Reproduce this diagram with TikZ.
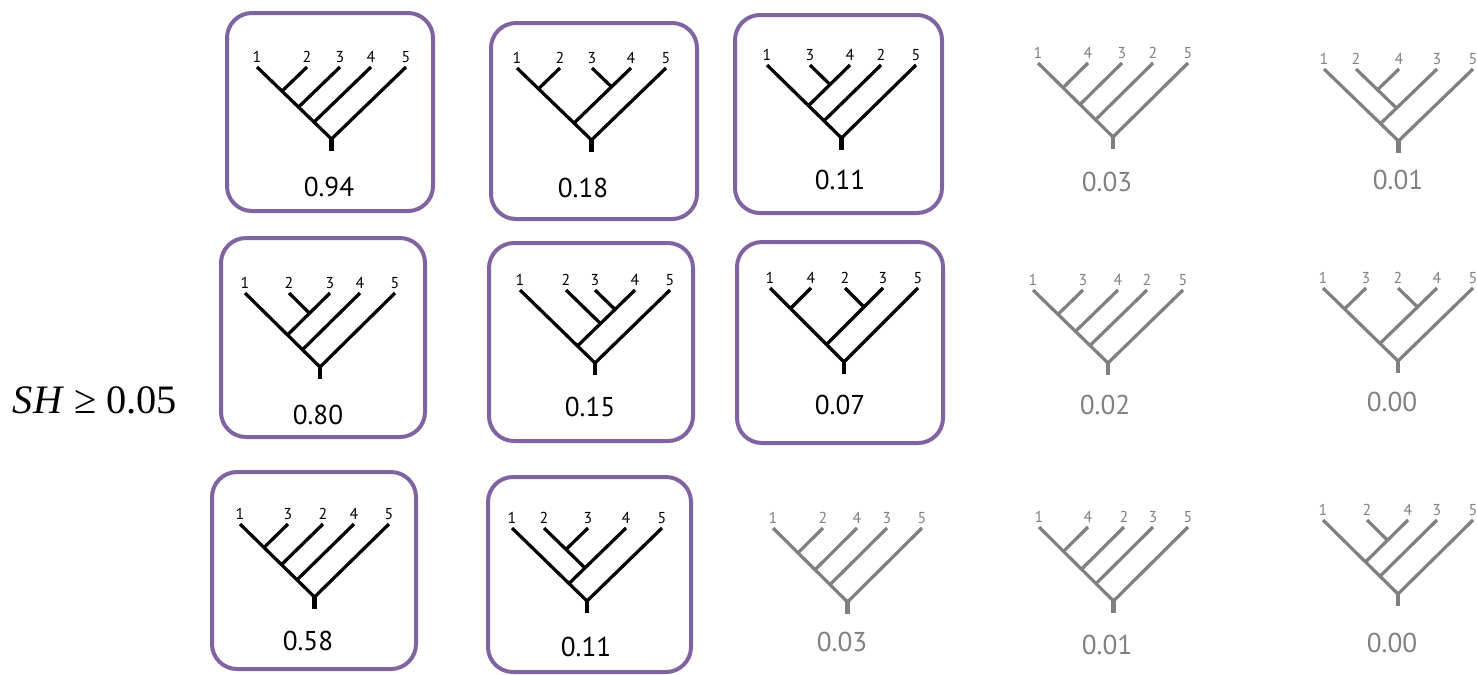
\documentclass[tikz,border=0pt]{standalone}
\usepackage{fontspec}
\setmainfont{PT Sans}
\newfontfamily\shfont{Liberation Serif}
\usetikzlibrary{positioning, calc}
\definecolor{boxpurple}{RGB}{128,100,162}
\definecolor{treegray}{RGB}{128,128,128}

% slanted cladogram: name, colour, tip row, root depth, leaves, clades, score position, score
\newcommand{\cladogram}[8]{%
  \foreach \lab/\xx in {#5} {
    \coordinate (#1\lab) at (\xx,#3);
    \node[leaflab, #2, above=2.5pt of #1\lab] (#1t\lab) {\lab};
  }
  \foreach \l/\r/\a/\b in {#6} {
    \path let \p1=(#1\a), \p2=(#1\b), \p3=(#11), \p4=(#15) in
      coordinate (#1\a\b) at ({(\x1+\x2)/2}, {\y1-#4*0.02cm*(\x2-\x1)/(\x4-\x3)});
    \draw[branch, #2] (#1\l) -- (#1\a\b) -- (#1\r);
  }
  \draw[stem, #2] (#115) -- ++(0,12);
  \node[score, #2] (#1val) at (#7) {#8};
}

\begin{document}
\begin{tikzpicture}[
    x=0.02cm, y=-0.02cm,
    hit/.style={black},
    miss/.style={treegray},
    leaflab/.style={inner sep=0pt, font=\fontsize{9}{10}\selectfont},
    score/.style={inner sep=0pt, font=\fontsize{15.5}{17}\selectfont},
    branch/.style={line width=0.065cm, line join=round},
    stem/.style={line width=0.09cm},
    card/.style={draw=boxpurple, line width=0.08cm, rounded corners=0.5cm},
]
\useasboundingbox (0,0) rectangle (1477,674);

% Threshold
\node[font=\shfont\fontsize{23}{26}\selectfont] (sh) at (95,400) {\textit{SH} ≥ 0.05};

% Boxes
\draw[card] (227,13) rectangle (433,211);
\draw[card] (491,23) rectangle (697,219);
\draw[card] (735,15) rectangle (942,213);
\draw[card] (221,238) rectangle (425,437);
\draw[card] (489,243) rectangle (693,441);
\draw[card] (737,242) rectangle (943,443);
\draw[card] (212,472) rectangle (416,669);
\draw[card] (488,477) rectangle (691,672);

% Row 1
\cladogram{A}{hit}{67}{72}{1/257,2/307,3/340,4/371,5/406}{1/2/1/2,12/3/1/3,13/4/1/4,14/5/1/5}{329,187}{0.94}
\cladogram{B}{hit}{68}{72}{1/517,2/560,3/592,4/631,5/666}{1/2/1/2,3/4/3/4,12/34/1/4,14/5/1/5}{583,188}{0.18}
\cladogram{C}{hit}{65}{73}{1/767,3/810,4/850,2/881,5/916}{3/4/3/4,1/34/1/4,14/2/1/2,12/5/1/5}{840,180}{0.11}
\cladogram{D}{miss}{63}{74}{1/1038,4/1088,3/1122,2/1153,5/1188}{1/4/1/4,14/3/1/3,13/2/1/2,12/5/1/5}{1107,182}{0.03}
\cladogram{E}{miss}{69}{72}{1/1324,2/1356,4/1399,3/1437,5/1473}{2/4/2/4,24/3/2/3,1/23/1/3,13/5/1/5}{1398,180}{0.01}

% Row 2
\cladogram{F}{hit}{293}{74}{1/245,2/289,3/330,4/360,5/395}{2/3/2/3,1/23/1/3,13/4/1/4,14/5/1/5}{318,415}{0.80}
\cladogram{G}{hit}{290}{73}{1/520,2/566,3/595,4/635,5/670}{3/4/3/4,2/34/2/4,1/24/1/4,14/5/1/5}{590,407}{0.15}
\cladogram{H}{hit}{288}{74}{1/770,4/811,2/845,3/883,5/918}{1/4/1/4,2/3/2/3,14/23/1/3,13/5/1/5}{840,405}{0.07}
\cladogram{I}{miss}{290}{73}{1/1033,3/1083,4/1118,2/1147,5/1183}{1/3/1/3,13/4/1/4,14/2/1/2,12/5/1/5}{1105,405}{0.02}
\cladogram{J}{miss}{288}{73}{1/1323,3/1366,2/1398,4/1437,5/1473}{1/3/1/3,2/4/2/4,13/24/1/4,14/5/1/5}{1392,402}{0.00}

% Row 3
\cladogram{K}{hit}{524}{73}{1/240,3/288,2/323,4/354,5/389}{1/3/1/3,13/2/1/2,12/4/1/4,14/5/1/5}{308,641}{0.58}
\cladogram{L}{hit}{528}{73}{1/512,2/544,3/588,4/626,5/662}{2/3/2/3,23/4/2/4,1/24/1/4,14/5/1/5}{586,647}{0.11}
\cladogram{M}{miss}{528}{74}{1/773,2/823,4/857,3/887,5/922}{1/2/1/2,12/4/1/4,14/3/1/3,13/5/1/5}{842,642}{0.03}
\cladogram{N}{miss}{527}{74}{1/1039,4/1088,2/1124,3/1153,5/1188}{1/4/1/4,14/2/1/2,12/3/1/3,13/5/1/5}{1107,645}{0.01}
\cladogram{O}{miss}{520}{74}{1/1323,2/1367,4/1408,3/1437,5/1473}{2/4/2/4,1/24/1/4,14/3/1/3,13/5/1/5}{1392,643}{0.00}

\end{tikzpicture}
\end{document}
